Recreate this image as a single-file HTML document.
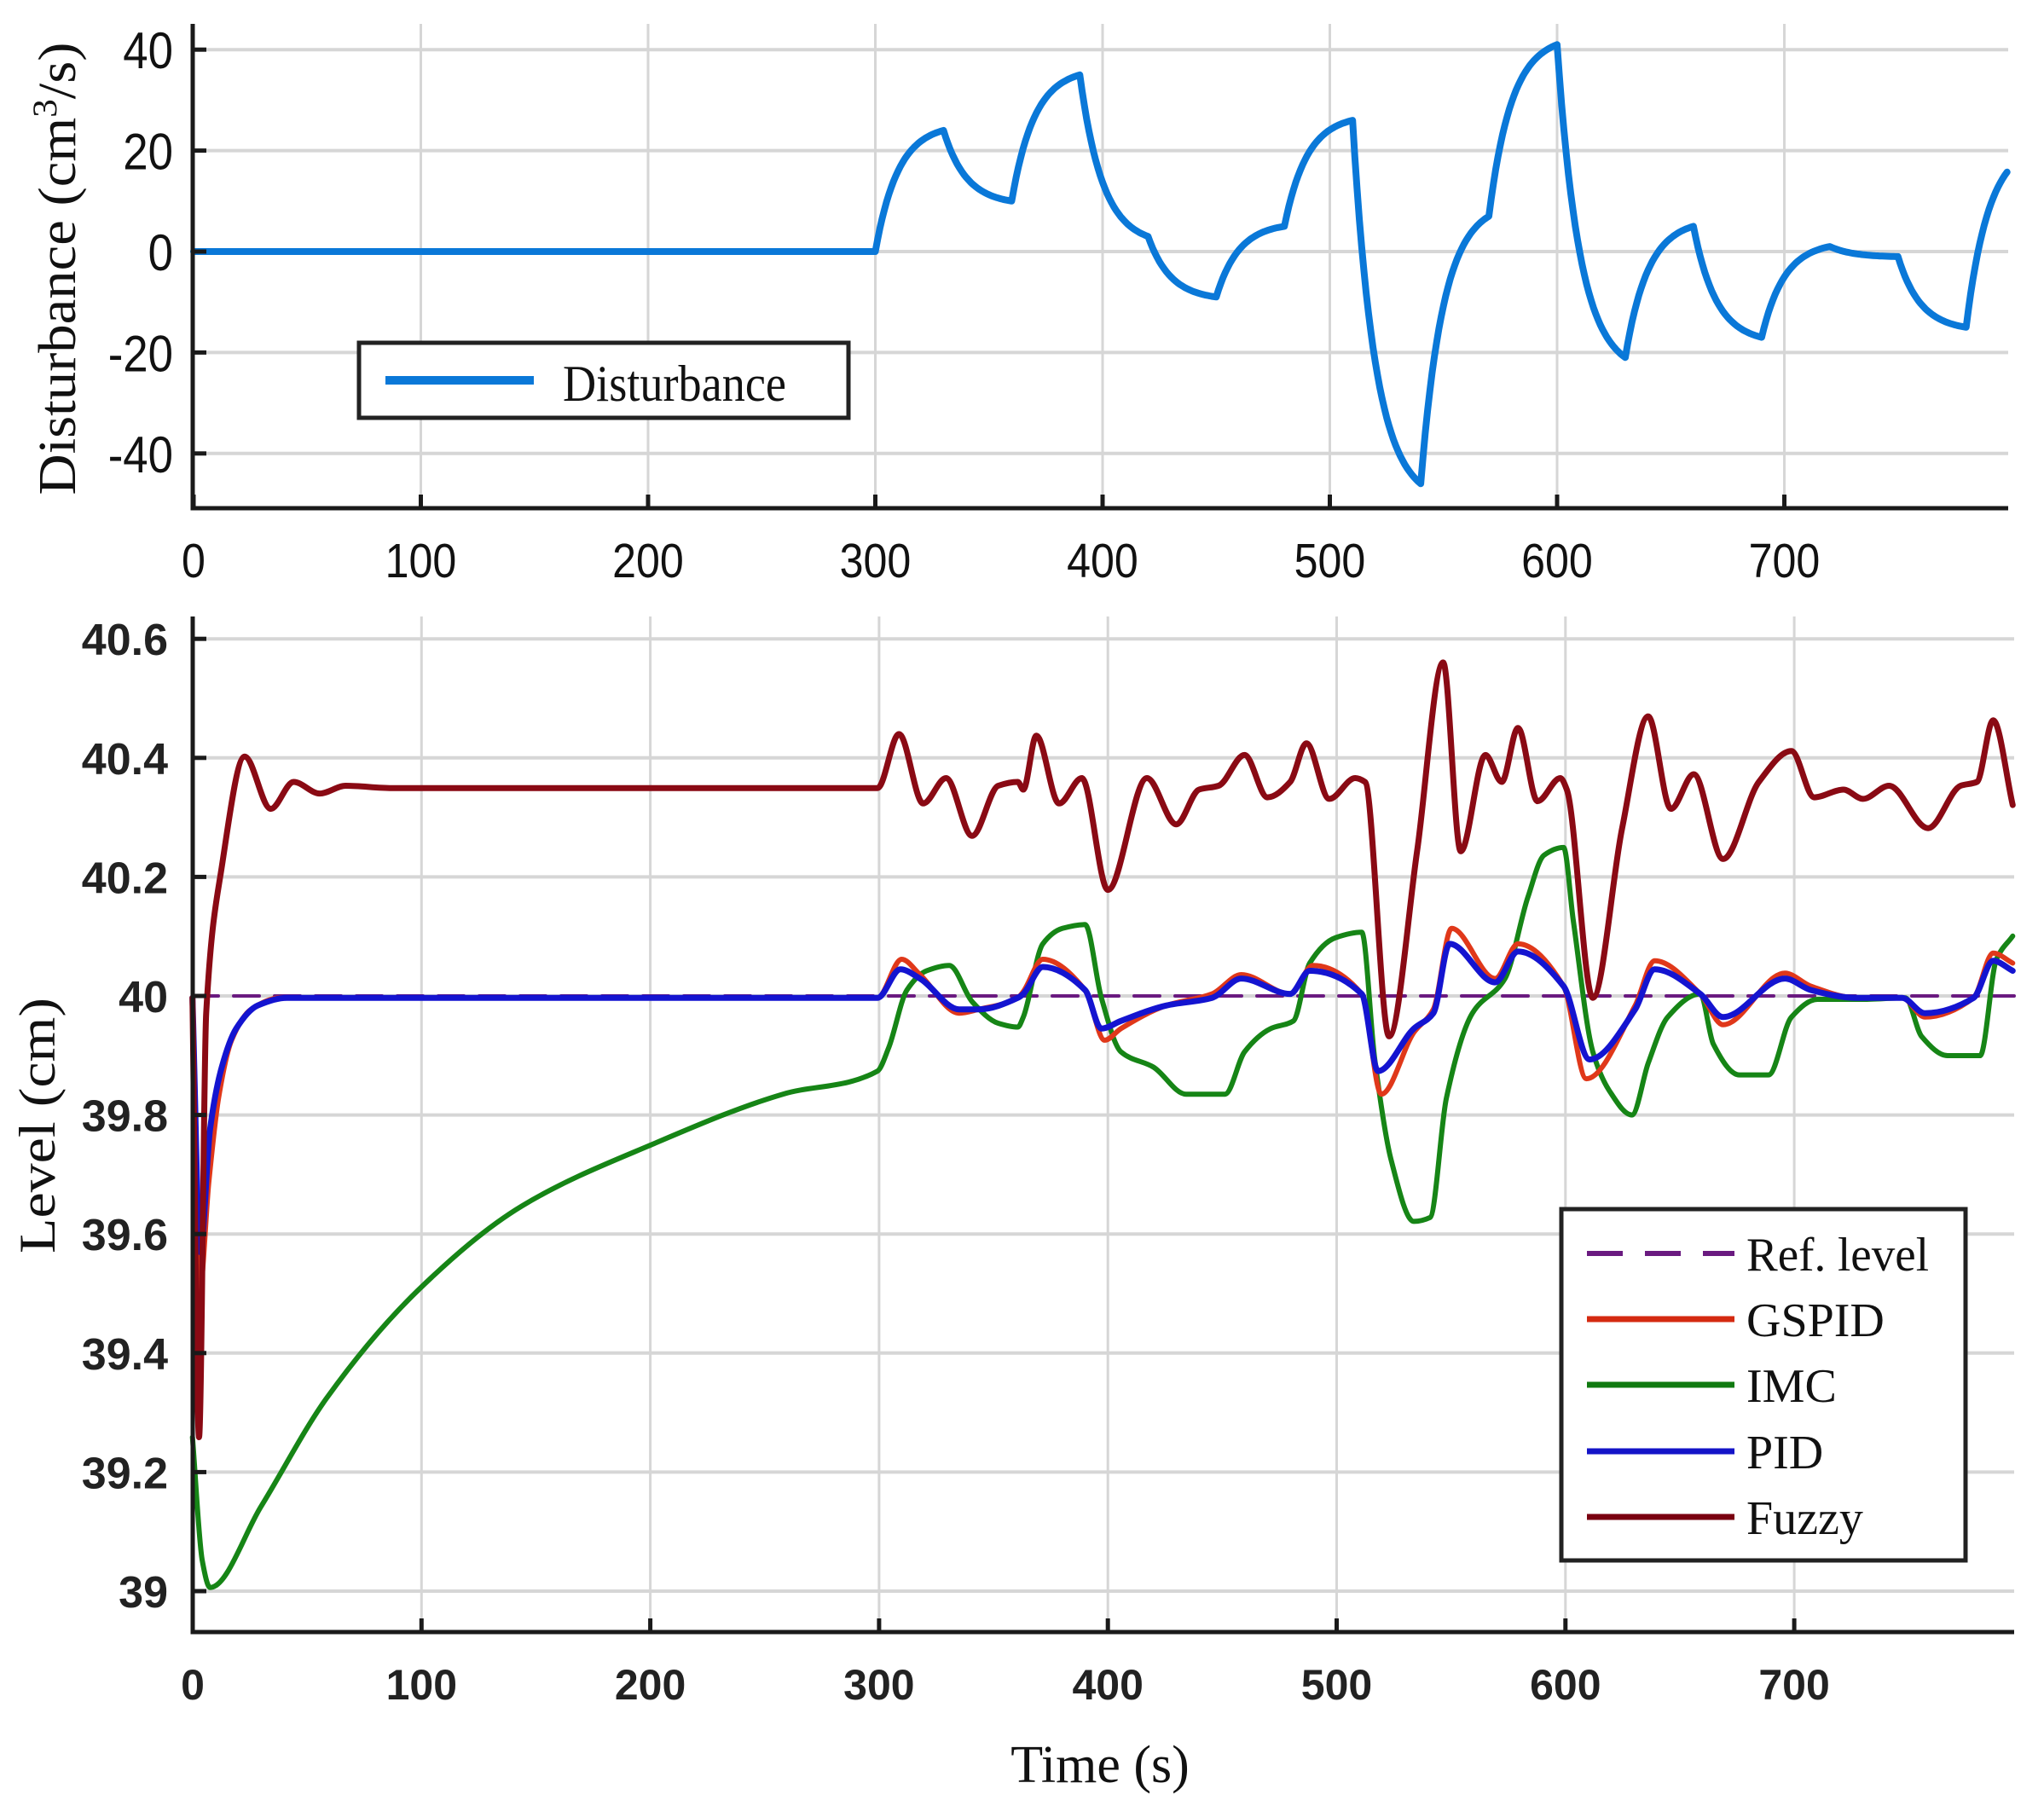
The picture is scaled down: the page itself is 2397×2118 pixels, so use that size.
<!DOCTYPE html>
<html><head><meta charset="utf-8"><style>
html,body{margin:0;padding:0;background:#fff}
svg{display:block}
.tk{font-family:"Liberation Sans",sans-serif}
.sr{font-family:"Liberation Serif",serif}
</style></head><body>
<svg id="s" width="2397" height="2118" viewBox="0 0 2397 2118" xmlns="http://www.w3.org/2000/svg">
<rect width="2397" height="2118" fill="#fff"/>
<g id="grid" stroke="#d6d6d6" stroke-width="4" fill="none"></g>
<g id="series" fill="none" stroke-linejoin="round" stroke-linecap="round"></g>
<g id="axes" stroke="#1a1a1a" stroke-width="5" fill="none"></g>
<g id="labels" fill="#111"></g>

<rect x="421" y="402" width="574" height="88" fill="#fff" stroke="#222" stroke-width="5"/>
<line x1="452" y1="446" x2="626" y2="446" stroke="#0a78d8" stroke-width="10"/>
<text class="sr" x="660" y="470" font-size="60" textLength="262" lengthAdjust="spacingAndGlyphs" fill="#111">Disturbance</text>

<rect x="1831" y="1418" width="474" height="412" fill="#fff" stroke="#222" stroke-width="5"/>
<line x1="1861" y1="1470" x2="2034" y2="1470" stroke="#6a1a80" stroke-width="6" stroke-dasharray="42,26"/>
<line x1="1861" y1="1547" x2="2034" y2="1547" stroke="#d42a10" stroke-width="7"/>
<line x1="1861" y1="1624" x2="2034" y2="1624" stroke="#107a10" stroke-width="7"/>
<line x1="1861" y1="1702" x2="2034" y2="1702" stroke="#1414c8" stroke-width="7"/>
<line x1="1861" y1="1779" x2="2034" y2="1779" stroke="#7a0010" stroke-width="7"/>
<g class="sr" font-size="56" fill="#111">
<text x="2048" y="1490" textLength="214" lengthAdjust="spacingAndGlyphs">Ref. level</text>
<text x="2048" y="1567">GSPID</text>
<text x="2048" y="1644">IMC</text>
<text x="2048" y="1722">PID</text>
<text x="2048" y="1799">Fuzzy</text>
</g>

<text class="sr" transform="translate(88,315) rotate(-90)" text-anchor="middle" font-size="62" fill="#111" textLength="531" lengthAdjust="spacingAndGlyphs">Disturbance (cm<tspan font-size="40" dy="-22">3</tspan><tspan dy="22">/s)</tspan></text>
<text class="sr" transform="translate(64,1320) rotate(-90)" text-anchor="middle" font-size="60" fill="#111" textLength="300" lengthAdjust="spacingAndGlyphs">Level (cm)</text>
<text class="sr" x="1290" y="2090" text-anchor="middle" font-size="62" fill="#111">Time (s)</text>
</svg>
<script>
(function(){
var NS="http://www.w3.org/2000/svg";
function el(p,n,a,t){var e=document.createElementNS(NS,n);for(var k in a)e.setAttribute(k,a[k]);if(t!==undefined)e.textContent=t;document.getElementById(p).appendChild(e);return e;}
var tx=function(t){return 227+t*2.665}, ty=function(v){return 295-v*5.92};
var TL=226,TR=2355,TT=28,TB=596;
[40,20,0,-20,-40].forEach(function(v){el("grid","line",{x1:TL,x2:TR,y1:ty(v),y2:ty(v)});
 el("axes","line",{x1:TL,x2:TL+16,y1:ty(v),y2:ty(v)});
 el("labels","text",{x:203,y:ty(v)+22,"text-anchor":"end","font-size":60,"class":"tk",transform:"translate(203,0) scale(0.88,1) translate(-203,0)"},""+v);});
for(var t=0;t<=700;t+=100){var x=tx(t);if(t>0)el("grid","line",{x1:x,x2:x,y1:TT,y2:TB,"stroke-width":3});
 el("axes","line",{x1:x,x2:x,y1:TB,y2:TB-16});
 el("labels","text",{x:x,y:677,"text-anchor":"middle","font-size":57,"class":"tk",transform:"translate("+x+",0) scale(0.88,1) translate("+(-x)+",0)"},""+t);}
el("axes","path",{d:"M"+TL+" "+TT+"V"+TB+"H"+TR});
var segs=[[0,0],[300,0],[330,24],[360,10],[390,35],[420,3],[450,-9],[480,5],[510,26],[540,-46],[570,7],[600,41],[630,-21],[660,5],[690,-17],[720,1],[750,-1],[780,-15],[810,20]];
var d="M"+tx(0)+" "+ty(0)+" L"+tx(300)+" "+ty(0);
var E=1-Math.exp(-3);
for(var i=1;i<segs.length-1;i++){var a=segs[i],b=segs[i+1];
 for(var s=1;s<=30;s++){var tt=a[0]+s; if(tt>798)break; var v=a[1]+(b[1]-a[1])*(1-Math.exp(-s/10))/E; d+=" L"+tx(tt).toFixed(1)+" "+ty(v).toFixed(1);}}
el("series","path",{d:d,stroke:"#0a78d8","stroke-width":8});
var bx=function(t){return 226+t*2.683}, by=function(L){return 1168-(L-40)*698};
var BL=226,BR=2362,BT=723,BB=1914;
var labs=["39","39.2","39.4","39.6","39.8","40","40.2","40.4","40.6"];
labs.forEach(function(s){var y=by(parseFloat(s));el("grid","line",{x1:BL,x2:BR,y1:y,y2:y});
 el("axes","line",{x1:BL,x2:BL+16,y1:y,y2:y});
 el("labels","text",{x:197,y:y+19,"text-anchor":"end","font-size":52,"font-weight":"bold","class":"tk",fill:"#222"},s);});
for(var t=0;t<=700;t+=100){var x=bx(t);if(t>0)el("grid","line",{x1:x,x2:x,y1:BT,y2:BB,"stroke-width":3});
 el("axes","line",{x1:x,x2:x,y1:BB,y2:BB-16});
 el("labels","text",{x:x,y:1993,"text-anchor":"middle","font-size":50,"font-weight":"bold","class":"tk",fill:"#222"},""+t);}
el("axes","path",{d:"M"+BL+" "+BT+"V"+BB+"H"+BR});
function conv(l,r){var p=[];l.forEach(function(q){p.push([q[0]/1.307,700+q[1]/1.106]);});r.forEach(function(q){p.push([1200+q[0]/1.31,700+q[1]/1.106]);});return p;}
function slope(p,i){
 var s1=(i>0)?(p[i][1]-p[i-1][1])/Math.max(0.01,p[i][0]-p[i-1][0]):null, s2=(i<p.length-1)?(p[i+1][1]-p[i][1])/Math.max(0.01,p[i+1][0]-p[i][0]):null;
 if(s1===null)return s2; if(s2===null)return s1;
 if(s1*s2<=0)return 0;
 var h1=p[i][0]-p[i-1][0],h2=p[i+1][0]-p[i][0],w1=2*h2+h1,w2=h2+2*h1;
 return (w1+w2)/(w1/s1+w2/s2);}
function cr(p){var d="M"+p[0][0].toFixed(1)+" "+p[0][1].toFixed(1);
 for(var i=0;i<p.length-1;i++){var p1=p[i],p2=p[i+1],h=(p2[0]-p1[0])/3,m1=slope(p,i),m2=slope(p,i+1);
  var c1=[p1[0]+h,p1[1]+m1*h],c2=[p2[0]-h,p2[1]-m2*h];
  d+=" C"+c1[0].toFixed(1)+" "+c1[1].toFixed(1)+" "+c2[0].toFixed(1)+" "+c2[1].toFixed(1)+" "+p2[0].toFixed(1)+" "+p2[1].toFixed(1);}
 return d;}
el("series","line",{x1:BL,x2:BR,y1:by(40),y2:by(40),stroke:"#6a1a80","stroke-width":4,"stroke-dasharray":"30,18"});
var imc=conv([[295,1090],[310,1250],[322,1285],[400,1180],[500,1040],[640,900],[800,790],[1000,710],[1200,645],[1345,615],[1362,585],[1390,510],[1420,485],[1455,478],[1490,525],[1530,553],[1560,558]],
 [[0,545],[30,450],[60,430],[95,425],[120,520],[150,590],[200,610],[250,645],[310,645],[340,590],[380,560],[415,550],[440,475],[480,442],[520,435],[540,600],[565,730],[600,810],[625,805],[650,650],[690,540],[740,495],[775,390],[800,335],[830,325],[845,420],[875,590],[900,640],[935,672],[960,605],[990,545],[1040,515],[1060,580],[1100,620],[1145,620],[1180,545],[1220,522],[1290,522],[1355,520],[1380,570],[1420,595],[1470,595],[1495,470],[1520,440]]);
el("series","path",{d:cr(imc),stroke:"#168516","stroke-width":6});
var gs=conv([[295,520],[306,900],[320,760],[335,650],[355,575],[385,535],[430,520],[1345,520],[1382,470],[1410,490],[1470,540],[1500,535],[1560,520]],
 [[0,512],[30,470],[95,510],[125,575],[150,560],[220,530],[290,515],[335,490],[410,515],[445,478],[520,515],[550,645],[600,565],[630,535],[658,430],[725,495],[760,450],[830,505],[865,625],[940,530],[970,472],[1040,515],[1075,555],[1170,488],[1210,505],[1280,520],[1350,520],[1385,545],[1460,520],[1490,462],[1520,475]]);
el("series","path",{d:cr(gs),stroke:"#e0381a","stroke-width":6});
var pid=conv([[295,520],[307,850],[322,690],[340,610],[362,560],[395,530],[440,520],[1345,520],[1380,483],[1410,495],[1470,535],[1500,535],[1560,520]],
 [[0,515],[30,480],[95,510],[120,560],[150,550],[220,530],[290,520],[335,495],[410,515],[440,485],[520,515],[545,615],[600,560],[630,540],[655,450],[725,500],[760,460],[830,505],[870,600],[940,535],[970,483],[1040,515],[1075,545],[1170,495],[1210,510],[1280,520],[1350,520],[1385,540],[1460,520],[1490,472],[1520,485]]);
el("series","path",{d:cr(pid),stroke:"#1414d0","stroke-width":7});
var fz=conv([[295,520],[305,1090],[316,540],[340,350],[375,207],[415,275],[450,240],[490,255],[530,245],[600,248],[1345,248],[1378,178],[1415,268],[1450,235],[1490,310],[1530,245],[1560,240]],
 [[0,250],[20,180],[55,268],[90,235],[130,380],[190,235],[235,295],[270,250],[300,245],[340,205],[375,260],[410,240],[435,190],[470,262],[510,235],[525,240],[562,570],[605,330],[645,85],[672,330],[710,205],[735,240],[760,170],[790,265],[825,235],[835,250],[875,520],[920,300],[960,155],[995,275],[1030,230],[1075,340],[1130,240],[1180,200],[1215,260],[1260,250],[1290,262],[1330,245],[1390,300],[1440,245],[1465,240],[1490,160],[1520,270]]);
el("series","path",{d:cr(fz),stroke:"#8a0a14","stroke-width":7});
})();
</script>
</body></html>
